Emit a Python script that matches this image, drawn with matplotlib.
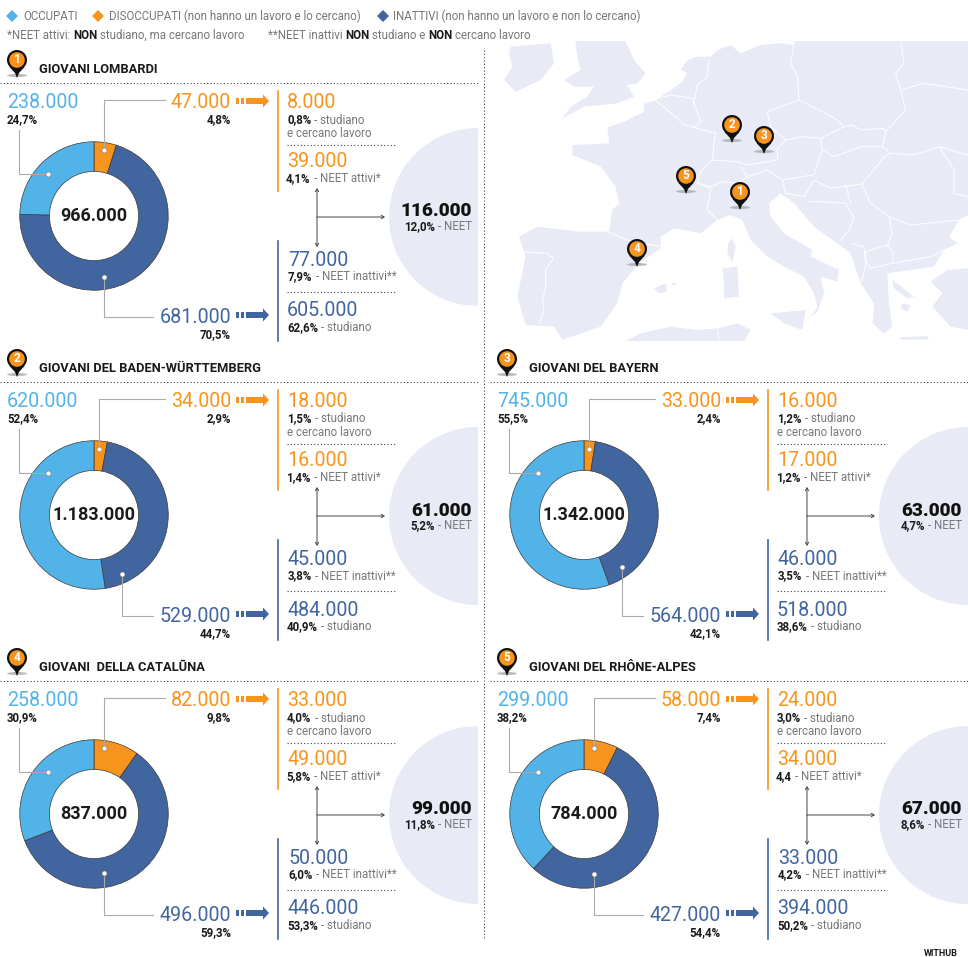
import matplotlib
matplotlib.use('Agg')
import matplotlib.pyplot as plt
from matplotlib.patches import Polygon, Circle, Ellipse, Rectangle

plt.rcParams['font.family'] = ['Roboto', 'DejaVu Sans']

# data, one entry per region (1 Lombardia, 2 Baden, 3 Bayern, 4 Catalunya, 5 Rhone)
titles = ['GIOVANI LOMBARDI', 'GIOVANI DEL BADEN-WÜRTTEMBERG', 'GIOVANI DEL BAYERN',
          'GIOVANI  DELLA CATALŪNA', 'GIOVANI DEL RHÔNE-ALPES']
totals = [966000, 1183000, 1342000, 837000, 784000]
occupati = [238000, 620000, 745000, 258000, 299000]
occupati_pct = ['24,7%', '52,4%', '55,5%', '30,9%', '38,2%']
disoccupati = [47000, 34000, 33000, 82000, 58000]
disoccupati_pct = ['4,8%', '2,9%', '2,4%', '9,8%', '7,4%']
inattivi = [681000, 529000, 564000, 496000, 427000]
inattivi_pct = ['70,5%', '44,7%', '42,1%', '59,3%', '54,4%']
stud_cerc = [8000, 18000, 16000, 33000, 24000]
stud_cerc_pct = ['0,8%', '1,5%', '1,2%', '4,0%', '3,0%']
neet_att = [39000, 16000, 17000, 49000, 34000]
neet_att_pct = ['4,1%', '1,4%', '1,2%', '5,8%', '4,4']
neet_ina = [77000, 45000, 46000, 50000, 33000]
neet_ina_pct = ['7,9%', '3,8%', '3,5%', '6,0%', '4,2%']
studiano = [605000, 484000, 518000, 446000, 394000]
studiano_pct = ['62,6%', '40,9%', '38,6%', '53,3%', '50,2%']
neet = [116000, 61000, 63000, 99000, 67000]
neet_pct = ['12,0%', '5,2%', '4,7%', '11,8%', '8,6%']

# panel layout
panel_dx = [0, 0, 490, 0, 490]
panel_dy = [0, 299, 299, 598, 598]
dis_x = [104, 99, 99, 104, 104]
ina_x = [104, 122, 132, 104, 104]
ina_y = [277, 275, 268, 275, 276]

# map pins: circle centre in pixels, same order as above
pin_x = [740, 732, 764, 637, 686]
pin_y = [192, 125, 136, 249, 176]

C_OCC = '#52B3E8'
C_DIS = '#F7941D'
C_INA = '#41659F'
C_MAP = '#E8EBF5'
C_TXT = '#77787B'
C_BLK = '#1A1A1A'
C_LINE = '#ABABAB'
DOTS = (0, (1, 2))

W, H = 968, 957
fig = plt.figure(figsize=(W / 100, H / 100), dpi=100)
ax = fig.add_axes([0, 0, 1, 1], zorder=2)
ax.set_xlim(0, W)
ax.set_ylim(H, 0)
ax.axis('off')
ax.patch.set_alpha(0)


def fmt(v):
    return f'{v:,}'.replace(',', '.')


def rich(x, y, parts, size=8.3, gap=3.2):
    # draws several text pieces one after the other, parts = (text, weight, colour)
    r = fig.canvas.get_renderer()
    for txt, weight, col in parts:
        t = ax.text(x, y, txt, fontsize=size, fontweight=weight, color=col, va='center', ha='left')
        x = t.get_window_extent(r).x1 + gap


def pin(cx, cy, num):
    ax.add_patch(Ellipse((cx, cy + 15.5), 20, 3, color='#A9A9A9', lw=0, alpha=0.8, zorder=4))
    ax.add_patch(Polygon([(cx - 7.5, cy + 7), (cx + 7.5, cy + 7), (cx + 2, cy + 13), (cx, cy + 18), (cx - 2, cy + 13)],
                         color='#111111', lw=0, zorder=5))
    ax.add_patch(Circle((cx, cy), 10, color='#111111', lw=0, zorder=5))
    ax.add_patch(Circle((cx, cy), 7.8, color=C_DIS, lw=0, zorder=6))
    ax.text(cx, cy - 0.3, str(num), color='white', fontsize=8.5, fontweight='bold', ha='center', va='center', zorder=7)


def arrow(x, y, col):
    for a, b in [(236, 240), (241, 245)]:
        ax.add_patch(Rectangle((x + a, y - 3), b - a - 1, 6, color=col, lw=0))
    ax.add_patch(Polygon([(x + 246, y - 3), (x + 263, y - 3), (x + 263, y - 6.5), (x + 269, y),
                          (x + 263, y + 6.5), (x + 263, y + 3), (x + 246, y + 3)], color=col, lw=0))


def dot(x, y):
    ax.plot([x], [y], 'o', ms=3.6, mfc='white', mec='#777777', mew=0.4, zorder=3)


def panel(i):
    dx, dy = panel_dx[i], panel_dy[i]
    cx, cy, rad = dx + 94, dy + 216, 75

    # donut
    sub = fig.add_axes([(cx - rad) / W, 1 - (cy + rad) / H, 2 * rad / W, 2 * rad / H], zorder=1)
    sub.pie([disoccupati[i], inattivi[i], occupati[i]], colors=[C_DIS, C_INA, C_OCC], startangle=90,
            counterclock=False, radius=1,
            wedgeprops=dict(width=0.4, edgecolor='#3a3a3a', linewidth=0.5))
    sub.set_xlim(-1.01, 1.01)
    sub.set_ylim(-1.01, 1.01)

    # grey circle for the NEET total, cut at the panel edge
    c = Circle((dx + 478, dy + 217), 89, color=C_MAP, lw=0, zorder=0)
    ax.add_patch(c)
    c.set_clip_path(Rectangle((dx, dy + 100), 478, 230, transform=ax.transData))

    # section title
    pin(dx + 17, dy + 60, i + 1)
    ax.text(dx + 39, dy + 69.5, titles[i], fontsize=9.3, fontweight='bold', color=C_BLK, va='center')
    ax.plot([dx, dx + 478], [dy + 82.5, dy + 82.5], color='#444444', lw=0.8, ls=DOTS)

    big = 14.1
    pct = 8.3
    ax.text(dx + 7, dy + 108, fmt(occupati[i]), fontsize=big, color=C_OCC, va='baseline')
    ax.text(dx + 7, dy + 120, occupati_pct[i], fontsize=pct, fontweight='bold', color=C_BLK, va='center')
    ax.text(dx + 231, dy + 108, fmt(disoccupati[i]), fontsize=big, color=C_DIS, ha='right', va='baseline')
    ax.text(dx + 231, dy + 120, disoccupati_pct[i], fontsize=pct, fontweight='bold', color=C_BLK, ha='right', va='center')
    ax.text(dx + 231, dy + 323, fmt(inattivi[i]), fontsize=big, color=C_INA, ha='right', va='baseline')
    ax.text(dx + 231, dy + 335, inattivi_pct[i], fontsize=pct, fontweight='bold', color=C_BLK, ha='right', va='center')
    arrow(dx, dy + 101, C_DIS)
    arrow(dx, dy + 315, C_INA)

    # leaders
    ax.plot([dx + 19, dx + 19, dx + 48], [dy + 130, dy + 174, dy + 174], color=C_LINE, lw=0.8, zorder=2)
    dot(dx + 48, dy + 174)
    ax.plot([dx + 165, dx + dis_x[i], dx + dis_x[i]], [dy + 100, dy + 100, dy + 150], color=C_LINE, lw=0.8, zorder=2)
    dot(dx + dis_x[i], dy + 150)
    ax.plot([dx + ina_x[i], dx + ina_x[i], dx + 153], [dy + ina_y[i], dy + 317, dy + 317], color=C_LINE, lw=0.8, zorder=2)
    dot(dx + ina_x[i], dy + ina_y[i])

    ax.text(cx, cy, fmt(totals[i]), fontsize=13, fontweight='bold', color=C_BLK, ha='center', va='center', zorder=5)

    # right breakdown
    ax.plot([dx + 278, dx + 278], [dy + 91, dy + 191], color=C_DIS, lw=1.2)
    ax.plot([dx + 278, dx + 278], [dy + 241, dy + 341], color=C_INA, lw=1.2)

    ax.text(dx + 287, dy + 108, fmt(stud_cerc[i]), fontsize=big, color=C_DIS, va='baseline')
    rich(dx + 287, dy + 120, [(stud_cerc_pct[i], 'bold', C_BLK), ('- studiano', 'normal', C_TXT)])
    ax.text(dx + 287, dy + 133.5, 'e cercano lavoro', fontsize=8.3, color=C_TXT, va='center')
    ax.plot([dx + 287, dx + 396], [dy + 144.5, dy + 144.5], color='#444444', lw=0.8, ls=DOTS)

    ax.text(dx + 287, dy + 167, fmt(neet_att[i]), fontsize=big, color=C_DIS, va='baseline')
    rich(dx + 286, dy + 178.5, [(neet_att_pct[i], 'bold', C_BLK), ('- NEET attivi*', 'normal', C_TXT)])

    ax.text(dx + 288, dy + 266, fmt(neet_ina[i]), fontsize=big, color=C_INA, va='baseline')
    rich(dx + 288, dy + 277, [(neet_ina_pct[i], 'bold', C_BLK), ('- NEET inattivi**', 'normal', C_TXT)])
    ax.plot([dx + 287, dx + 396], [dy + 291.5, dy + 291.5], color='#444444', lw=0.8, ls=DOTS)

    ax.text(dx + 287, dy + 316.5, fmt(studiano[i]), fontsize=big, color=C_INA, va='baseline')
    rich(dx + 287, dy + 327.5, [(studiano_pct[i], 'bold', C_BLK), ('- studiano', 'normal', C_TXT)])

    # connector arrows
    ap = dict(arrowstyle='->,head_width=0.12,head_length=0.2', color='#444444', lw=0.7, shrinkA=0, shrinkB=0)
    ax.annotate('', xy=(dx + 317, dy + 188), xytext=(dx + 317, dy + 217), arrowprops=ap)
    ax.annotate('', xy=(dx + 317, dy + 247), xytext=(dx + 317, dy + 217), arrowprops=ap)
    ax.annotate('', xy=(dx + 385, dy + 217), xytext=(dx + 317, dy + 217), arrowprops=ap)

    ax.text(dx + 472, dy + 216.5, fmt(neet[i]), fontsize=13.7, fontweight='black', color='#111111', ha='right', va='baseline')
    t = ax.text(dx + 472, dy + 226.5, '- NEET', fontsize=8.3, color=C_TXT, ha='right', va='center')
    bb = t.get_window_extent(fig.canvas.get_renderer())
    ax.text(bb.x0 - 3.2, dy + 226.5, neet_pct[i], fontsize=pct, fontweight='bold', color=C_BLK, ha='right', va='center')


# background map, outlines traced in a 3x crop of the map area
def mp(points):
    return [(484 + a / 3, 40 + b / 3) for a, b in points]


mainland = [(1500, -30), (930, -30), (930, 15), (880, 10), (830, 15), (770, 40), (740, 15), (700, 30), (680, 50), (640, 50),
            (610, 60), (590, 90), (610, 100), (590, 130), (560, 150), (530, 170), (515, 182), (480, 190), (480, 215),
            (420, 245), (370, 262), (375, 310), (265, 315), (265, 345), (350, 380), (395, 440), (405, 490), (385, 510),
            (375, 575), (290, 575), (160, 560), (105, 590), (125, 650), (100, 770), (125, 855), (210, 860), (235, 900),
            (350, 860), (400, 790), (415, 730), (465, 670), (530, 625), (530, 590), (570, 565), (650, 580), (700, 540),
            (740, 525), (775, 540), (800, 600), (850, 650), (900, 680), (960, 710), (990, 760), (1000, 800), (980, 830),
            (1000, 815), (1020, 760), (1010, 710), (1060, 725), (1065, 690), (980, 650), (985, 630), (900, 580),
            (860, 530), (855, 490), (890, 460), (930, 490), (990, 560), (1060, 610), (1100, 640), (1130, 730), (1170, 790),
            (1165, 850), (1200, 880), (1225, 860), (1215, 790), (1210, 700), (1350, 680), (1380, 630), (1420, 610),
            (1395, 590), (1425, 540), (1500, 500)]
turkey = [(1500, 680), (1390, 690), (1340, 725), (1375, 760), (1345, 800), (1400, 860), (1500, 880)]
ireland = [(80, 20), (200, 10), (210, 70), (170, 120), (95, 155), (60, 120), (85, 80), (75, 40)]
britain = [(270, -30), (410, -30), (450, 60), (485, 100), (460, 130), (430, 135), (450, 170), (400, 190), (300, 200),
           (235, 235), (260, 200), (310, 170), (330, 140), (270, 140), (240, 120), (290, 90), (280, 50)]
corsica = [(745, 595), (755, 620), (745, 665), (730, 640), (733, 610)]
sardinia = [(715, 685), (760, 680), (765, 770), (720, 775), (720, 730)]
sicily = [(860, 820), (965, 810), (955, 870), (900, 850)]
baleari = [(510, 745), (545, 730), (550, 755), (525, 760)]
minorca = [(560, 728), (580, 730), (570, 738)]
crete = [(1250, 892), (1330, 888), (1335, 899), (1250, 899)]
cicladi = [(1255, 790), (1280, 795), (1270, 815), (1250, 805)]
eubea = [(1225, 720), (1290, 770), (1270, 775), (1230, 745)]
africa = [(420, 905), (470, 880), (560, 860), (640, 870), (700, 865), (760, 850), (800, 870), (780, 905)]
land = [mainland, turkey, ireland, britain, corsica, sardinia, sicily, baleari, minorca, crete, cicladi, eubea, africa]

borders = [
    [(515, 182), (545, 205), (580, 235), (600, 255), (630, 262)],
    [(630, 262), (650, 245), (630, 190), (640, 135), (670, 110), (675, 60)],
    [(520, 175), (560, 165), (625, 175), (630, 190)],
    [(630, 262), (695, 280), (690, 310), (685, 360)],
    [(685, 360), (650, 395), (640, 430)],
    [(685, 360), (760, 365), (790, 375), (880, 360)],
    [(640, 430), (680, 440), (720, 425), (760, 430), (790, 410), (770, 380)],
    [(640, 430), (680, 445), (670, 510), (700, 540)],
    [(930, 10), (920, 70), (940, 110), (945, 180)],
    [(850, 215), (945, 180), (1015, 215), (1060, 240), (1080, 260)],
    [(850, 215), (860, 260), (905, 300), (880, 325), (880, 360)],
    [(905, 300), (950, 290), (1010, 295), (1080, 260)],
    [(1080, 260), (1105, 255), (1130, 270), (1200, 265), (1205, 280)],
    [(1250, 0), (1260, 70), (1235, 100), (1250, 150), (1265, 210), (1205, 275)],
    [(1250, 150), (1320, 130), (1452, 150)],
    [(1205, 275), (1195, 320), (1220, 340)],
    [(1010, 295), (1015, 330), (1050, 350), (1130, 320), (1195, 320)],
    [(1015, 330), (990, 405)],
    [(790, 410), (850, 390), (895, 420), (985, 405)],
    [(895, 420), (905, 460), (960, 470), (990, 420), (1040, 445), (1135, 432)],
    [(1135, 432), (1200, 350), (1220, 340), (1290, 345), (1365, 320), (1452, 345)],
    [(1135, 432), (1160, 490), (1215, 530)],
    [(1215, 530), (1280, 555), (1330, 550), (1425, 540)],
    [(975, 485), (1010, 485), (1085, 490), (1110, 535), (1095, 570), (1070, 600)],
    [(1085, 435), (1100, 490)],
    [(1215, 530), (1225, 580), (1210, 620)],
    [(1145, 635), (1210, 615), (1230, 640), (1225, 670), (1160, 685), (1145, 660), (1145, 635)],
    [(1100, 610), (1140, 620), (1145, 680), (1130, 730)],
    [(1225, 670), (1340, 650), (1380, 630)],
    [(1365, 320), (1410, 390), (1410, 460), (1452, 470)],
    [(120, 635), (190, 640), (208, 655), (185, 690), (185, 745), (175, 780), (180, 810), (165, 850)],
    [(370, 575), (430, 600), (530, 620)],
    [(700, 865), (705, 905)],
]

map_clip = Rectangle((485, 41), 483, 300, transform=ax.transData)
for shape in land:
    p = Polygon(mp(shape), color=C_MAP, lw=0, zorder=0)
    ax.add_patch(p)
    p.set_clip_path(map_clip)
for b in borders:
    pts = mp(b)
    ln, = ax.plot([q[0] for q in pts], [q[1] for q in pts], color='white', lw=0.7, zorder=0.5)
    ln.set_clip_path(map_clip)

for i in range(5):
    pin(pin_x[i], pin_y[i], i + 1)

# legend
for x, col, lab, tx in [(12, C_OCC, 'OCCUPATI', 23), (98, C_DIS, 'DISOCCUPATI (non hanno un lavoro e lo cercano)', 109),
                        (383, C_INA, 'INATTIVI (non hanno un lavoro e non lo cercano)', 393)]:
    ax.plot([x], [16], 'D', ms=6.5, color=col, mew=0)
    ax.text(tx, 16, lab, fontsize=8.3, color=C_TXT, va='center')
rich(7, 35.5, [('*NEET attivi:', 'normal', C_TXT), ('NON', 'bold', C_BLK), ('studiano, ma cercano lavoro', 'normal', C_TXT)], gap=2.6)
rich(268, 35.5, [('**NEET inattivi', 'normal', C_TXT), ('NON', 'bold', C_BLK), ('studiano e', 'normal', C_TXT),
                 ('NON', 'bold', C_BLK), ('cercano lavoro', 'normal', C_TXT)], gap=2.6)

# column separator
ax.plot([484, 484], [50, 940], color='#444444', lw=0.8, ls=DOTS)

fig.canvas.draw()
for i in range(5):
    panel(i)

ax.text(958, 953, 'WITHUB', fontsize=6.5, fontweight='bold', color=C_BLK, ha='right', va='center')

fig.savefig('out.png', dpi=100)
